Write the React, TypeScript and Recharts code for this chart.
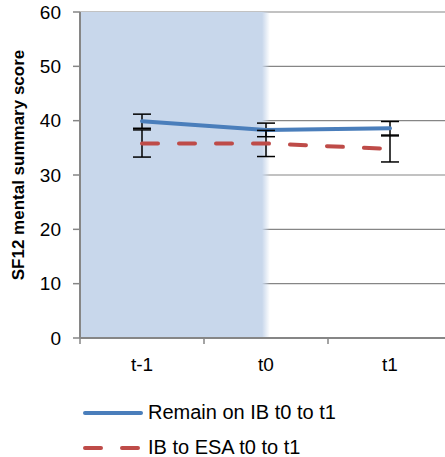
import { LineChart, Line, XAxis, YAxis, CartesianGrid, ReferenceArea, ErrorBar, Legend, Label } from 'recharts'

const periods = ['t-1', 't0', 't1']
const remainScores = [39.9, 38.3, 38.6]
const remainErrors = [1.3, 1.25, 1.25]
const esaScores = [35.8, 35.8, 34.8]
const esaErrors = [2.5, 2.4, 2.4]
const yTicks = [0, 10, 20, 30, 40, 50, 60]
const seriesNames = ['Remain on IB t0 to t1', 'IB to ESA t0 to t1']

const FONT = '"Liberation Sans", Arial, sans-serif'
const AXIS_GREY = '#868686'
const REMAIN_BLUE = '#4A7EBB'
const ESA_RED = '#BE4B48'
const SHADE_BLUE = '#C8D7EB'
const TICK_SIZE = 6
const TICK_MARGIN = 14

const data = periods.map((p, i) => ({
  period: p,
  remain: remainScores[i],
  remainErr: remainErrors[i],
  esa: esaScores[i],
  esaErr: esaErrors[i],
}))

// excel style: tick marks sit between categories, labels in the middle
function PeriodTick(props: any) {
  const { x, y, payload, index, visibleTicksCount } = props
  const half = payload?.offset ?? 62
  const axisY = y - TICK_SIZE - TICK_MARGIN
  const marks = [x - half]
  if (index === visibleTicksCount - 1) marks.push(x + half)
  return (
    <g>
      {marks.map((mx) => (
        <line key={mx} x1={mx} x2={mx} y1={axisY} y2={axisY + TICK_SIZE} stroke={AXIS_GREY} strokeWidth={1.5} />
      ))}
      <text x={x} y={y} dy="0.71em" textAnchor="middle" fontSize={19} fontFamily={FONT} fill="#000">
        {payload.value}
      </text>
    </g>
  )
}

function ScoreLabel(props: any) {
  const vb = props.viewBox || { x: 0, y: 12, width: 80, height: 326 }
  const cx = vb.x + 18
  const cy = vb.y + vb.height / 2 - 10
  return (
    <text
      x={cx}
      y={cy}
      transform={`rotate(-90, ${cx}, ${cy})`}
      textAnchor="middle"
      dominantBaseline="central"
      fontSize={17}
      fontWeight="bold"
      fontFamily={FONT}
      fill="#000"
    >
      SF12 mental summary score
    </text>
  )
}

function SeriesLegend() {
  const items = [
    { name: seriesNames[0], color: REMAIN_BLUE, dash: undefined },
    { name: seriesNames[1], color: ESA_RED, dash: '16 21' },
  ]
  return (
    <div style={{ height: 70, fontFamily: FONT, fontSize: 20, color: '#000' }}>
      {items.map((it) => (
        <div key={it.name} style={{ height: 35, display: 'flex', alignItems: 'center', paddingLeft: 81 }}>
          <svg width={64} height={10} style={{ display: 'block' }}>
            <line x1={4} x2={60} y1={5} y2={5} stroke={it.color} strokeWidth={4} strokeLinecap="round" strokeDasharray={it.dash} />
          </svg>
          <span style={{ marginLeft: 3, whiteSpace: 'nowrap' }}>{it.name}</span>
        </div>
      ))}
    </div>
  )
}

export default function App() {
  return (
    <div style={{ position: 'absolute', left: 0, top: 0, width: 445, height: 457, overflow: 'hidden', background: '#fff' }}>
      <LineChart width={460} height={457} data={data} margin={{ top: 12, right: 8, bottom: 9, left: 0 }}>
        <defs>
          <linearGradient id="ibShade" x1="0" y1="0" x2="1" y2="0">
            <stop offset="0" stopColor={SHADE_BLUE} stopOpacity={1} />
            <stop offset="0.734" stopColor={SHADE_BLUE} stopOpacity={1} />
            <stop offset="0.766" stopColor={SHADE_BLUE} stopOpacity={0} />
            <stop offset="1" stopColor={SHADE_BLUE} stopOpacity={0} />
          </linearGradient>
        </defs>
        <ReferenceArea x1="t-1" x2="t0" y1={0} y2={60} fill="url(#ibShade)" fillOpacity={1} stroke="none" />
        <CartesianGrid vertical={false} stroke={AXIS_GREY} strokeWidth={1.2} />
        <XAxis
          dataKey="period"
          scale="band"
          height={40}
          axisLine={{ stroke: AXIS_GREY, strokeWidth: 2 }}
          tickLine={false}
          tickSize={TICK_SIZE}
          tickMargin={TICK_MARGIN}
          tick={<PeriodTick />}
          interval={0}
        />
        <YAxis
          width={80}
          domain={[0, 60]}
          ticks={yTicks}
          axisLine={{ stroke: AXIS_GREY, strokeWidth: 2 }}
          tickLine={{ stroke: AXIS_GREY, strokeWidth: 1.5 }}
          tickSize={7}
          tickMargin={12}
          tick={{ fontSize: 19, fontFamily: FONT, fill: '#000' }}
        >
          <Label content={<ScoreLabel />} />
        </YAxis>
        <Line
          type="linear"
          dataKey="remain"
          name={seriesNames[0]}
          stroke={REMAIN_BLUE}
          strokeWidth={4}
          strokeLinecap="round"
          dot={false}
          activeDot={false}
          isAnimationActive={false}
        >
          <ErrorBar dataKey="remainErr" width={9} strokeWidth={1.5} stroke="#000" isAnimationActive={false} />
        </Line>
        <Line
          type="linear"
          dataKey="esa"
          name={seriesNames[1]}
          stroke={ESA_RED}
          strokeWidth={4}
          strokeLinecap="round"
          strokeDasharray="16 21"
          dot={false}
          activeDot={false}
          isAnimationActive={false}
        >
          <ErrorBar dataKey="esaErr" width={9} strokeWidth={1.5} stroke="#000" isAnimationActive={false} />
        </Line>
        <Legend
          verticalAlign="bottom"
          content={<SeriesLegend />}
          wrapperStyle={{ top: 395, left: 0, width: 445, height: 70 }}
        />
      </LineChart>
    </div>
  )
}
